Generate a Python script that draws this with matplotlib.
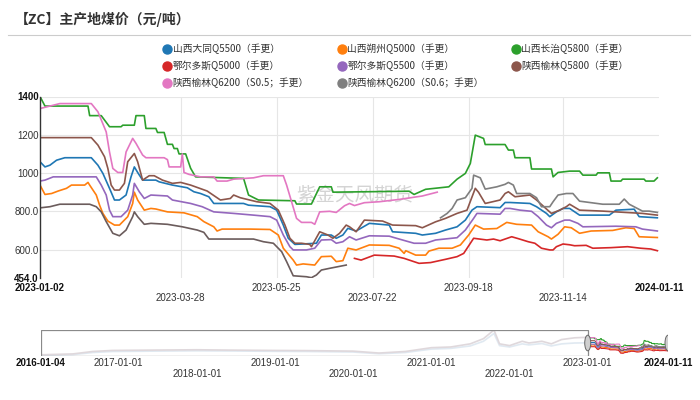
import numpy as np
import pandas as pd
import matplotlib
matplotlib.use('Agg')
import matplotlib.pyplot as plt
from matplotlib.lines import Line2D
from matplotlib.patches import Rectangle, Ellipse
import matplotlib.transforms as mtransforms

plt.rcParams['font.family'] = ['Noto Sans CJK SC', 'DejaVu Sans']
plt.rcParams['axes.unicode_minus'] = False

start = pd.Timestamp('2023-01-02')
end = pd.Timestamp('2024-01-11')

# 各序列：距 2023-01-02 的天数 + 价格（元/吨）
datong_d = [0, 3, 6, 10, 15, 31, 35, 38, 42, 45, 48, 52, 55, 57, 59, 62, 70, 72, 80, 89, 93, 97, 102, 105, 123, 126,
            139, 143, 147, 150, 154, 167, 170, 176, 179, 183, 186, 191, 199, 211, 213, 227, 231, 239, 245, 252, 257,
            261, 264, 278, 281, 284, 296, 300, 306, 308, 312, 316, 320, 326, 344, 348, 359, 362, 373]
datong = [1059, 1032, 1041, 1067, 1080, 1080, 1041, 998, 920, 859, 859, 885, 980, 1032, 1003, 963, 963, 954, 937, 923,
          902, 893, 876, 841, 841, 832, 824, 806, 728, 659, 627, 633, 676, 676, 659, 676, 711, 697, 737, 728, 693, 685,
          676, 685, 702, 719, 754, 806, 824, 819, 846, 846, 841, 824, 789, 772, 797, 815, 815, 780, 780, 806, 811, 772,
          766]

shuozhou_d = [0, 3, 7, 11, 16, 19, 27, 29, 30, 34, 36, 38, 41, 45, 48, 53, 56, 57, 59, 63, 67, 70, 77, 87, 95, 99, 105,
              107, 110, 127, 139, 144, 147, 153, 155, 159, 166, 170, 176, 179, 183, 186, 191, 199, 211, 217, 220, 221,
              227, 233, 235, 241, 249, 254, 259, 263, 268, 276, 282, 288, 297, 301, 307, 309, 313, 317, 321, 326, 333,
              346, 354, 359, 362, 373]
shuozhou = [937, 888, 893, 906, 920, 937, 937, 951, 937, 885, 832, 789, 749, 728, 728, 772, 841, 900, 859, 806, 815, 812,
            797, 792, 772, 746, 719, 697, 707, 707, 705, 676, 607, 545, 519, 525, 519, 563, 565, 537, 542, 607, 598, 624,
            622, 607, 580, 594, 571, 571, 592, 607, 607, 624, 676, 728, 707, 710, 742, 732, 728, 693, 667, 655, 680, 719,
            714, 685, 697, 700, 714, 710, 667, 663]

changzhi_d = [0, 3, 29, 30, 37, 42, 49, 50, 57, 58, 63, 64, 70, 71, 75, 76, 77, 80, 81, 83, 84, 88, 91, 94, 112, 123,
              126, 132, 154, 155, 164, 169, 176, 177, 223, 226, 233, 247, 252, 257, 260, 263, 268, 269, 281, 283, 286,
              287, 296, 297, 309, 310, 313, 320, 326, 328, 336, 337, 344, 345, 351, 352, 365, 366, 371, 373]
changzhi = [1400, 1350, 1350, 1300, 1300, 1242, 1242, 1250, 1250, 1300, 1300, 1233, 1233, 1212, 1212, 1181, 1150, 1150,
            1128, 1128, 1100, 1100, 1025, 980, 975, 972, 885, 859, 855, 838, 838, 928, 928, 900, 905, 888, 915, 928, 968,
            998, 1050, 1198, 1181, 1149, 1149, 1120, 1120, 1080, 1080, 1021, 1021, 980, 1003, 1010, 1010, 989, 989, 1001,
            1001, 958, 958, 968, 968, 958, 958, 975]

ordos5000_d = [0, 6, 12, 30, 34, 37, 40, 44, 48, 52, 56, 57, 59, 63, 67, 77, 86, 95, 99, 102, 129, 135, 141, 146, 149,
               153, 161, 164, 167, 170, 175, 185, 190, 194, 202, 214, 220, 229, 236, 245, 252, 256, 262, 270, 274, 278,
               285, 289, 295, 299, 303, 308, 310, 312, 316, 320, 323, 330, 334, 345, 355, 363, 369, 373]
ordos5000 = [818, 824, 837, 837, 824, 797, 746, 685, 672, 702, 772, 797, 772, 732, 737, 732, 719, 702, 690, 655, 655, 641,
             633, 589, 537, 463, 458, 453, 467, 493, 502, 519, 554, 545, 571, 566, 554, 528, 532, 549, 563, 580, 659, 650,
             655, 646, 667, 657, 641, 633, 607, 598, 598, 615, 629, 625, 620, 622, 607, 610, 615, 607, 603, 594]
ordos5000_split = 187   # 此前一段在原图中为深灰色

ordos5500_d = [0, 3, 8, 34, 37, 40, 42, 44, 49, 53, 56, 57, 60, 63, 67, 77, 80, 91, 98, 105, 117, 129, 139, 143, 147,
               151, 153, 161, 166, 170, 176, 179, 183, 187, 191, 199, 211, 217, 226, 233, 239, 252, 257, 262, 264, 278,
               281, 284, 290, 297, 301, 306, 309, 312, 317, 320, 325, 328, 348, 360, 364, 373]
ordos5500 = [958, 963, 980, 980, 937, 885, 806, 772, 772, 806, 885, 946, 902, 867, 885, 880, 859, 841, 824, 797, 789, 780,
             772, 754, 676, 615, 598, 598, 607, 650, 652, 633, 641, 667, 650, 672, 670, 655, 633, 633, 650, 662, 702, 763,
             789, 785, 815, 815, 806, 800, 772, 728, 714, 737, 754, 754, 737, 719, 722, 719, 707, 697]

yulin5800_d = [0, 31, 35, 39, 41, 43, 45, 48, 51, 53, 57, 59, 62, 66, 69, 74, 80, 85, 91, 101, 109, 115, 117, 121, 131,
               139, 144, 148, 151, 154, 158, 163, 164, 169, 174, 177, 181, 185, 187, 191, 196, 207, 213, 227, 231, 239,
               245, 252, 258, 263, 265, 269, 278, 281, 283, 287, 296, 300, 306, 309, 314, 318, 320, 326, 340, 348, 364,
               373]
yulin5800 = [1185, 1185, 1146, 1085, 1024, 937, 911, 911, 946, 1059, 1102, 1059, 963, 986, 986, 963, 946, 951, 937, 906,
             859, 867, 885, 871, 850, 841, 806, 728, 659, 633, 633, 627, 615, 693, 676, 659, 685, 728, 719, 693, 754, 749,
             728, 725, 714, 745, 763, 789, 806, 920, 899, 841, 859, 893, 902, 876, 885, 859, 812, 789, 806, 824, 837, 806,
             801, 797, 789, 780]

yulin6200a_d = [0, 12, 31, 35, 40, 42, 44, 47, 50, 52, 56, 58, 62, 64, 75, 77, 78, 85, 86, 87, 90, 97, 105, 107, 113,
                117, 129, 135, 147, 149, 152, 155, 158, 164, 166, 169, 175, 179, 184, 187, 190, 196, 205, 217, 231, 240]
yulin6200a = [1337, 1363, 1363, 1320, 1215, 1110, 1024, 1003, 1003, 1110, 1181, 1155, 1094, 1080, 1080, 1070, 1032, 1032,
              1100, 1003, 993, 980, 980, 958, 958, 968, 975, 986, 986, 937, 850, 763, 742, 742, 732, 797, 800, 794, 829,
              841, 830, 845, 850, 862, 880, 900]

yulin6200b_d = [242, 246, 249, 252, 257, 261, 262, 266, 269, 276, 281, 283, 286, 288, 296, 300, 303, 308, 310, 313, 318,
                322, 326, 340, 350, 353, 356, 364, 368, 373]
yulin6200b = [766, 789, 815, 859, 871, 920, 989, 975, 916, 928, 941, 951, 937, 893, 893, 871, 824, 824, 850, 885, 893,
              893, 853, 837, 837, 864, 837, 801, 801, 794]

# 导航条历史数据（2016-2022）
hist_dates = ['2016-01-04', '2016-06-01', '2016-09-01', '2016-12-01', '2017-06-01', '2018-01-01', '2018-06-01',
              '2019-01-01', '2019-06-01', '2020-01-01', '2020-05-01', '2020-09-01', '2021-01-01', '2021-04-01',
              '2021-07-01', '2021-09-01', '2021-10-20', '2021-11-15', '2022-01-01', '2022-03-01', '2022-04-01',
              '2022-06-01', '2022-07-15', '2022-09-01', '2022-11-01', '2023-01-01']
hist_upper = [370, 420, 560, 620, 640, 660, 640, 620, 610, 580, 470, 560, 780, 820, 1000, 1300, 1800, 1000, 900, 1150,
              1050, 1150, 1000, 1250, 1350, 1380]
hist_lower = [330, 380, 500, 560, 580, 600, 590, 570, 560, 530, 430, 500, 700, 740, 880, 1150, 1600, 900, 820, 1000,
              940, 1020, 880, 1000, 1050, 1060]

names = ['山西大同Q5500（手更）', '山西朔州Q5000（手更）', '山西长治Q5800（手更）',
         '鄂尔多斯Q5000（手更）', '鄂尔多斯Q5500（手更）', '陕西榆林Q5800（手更）',
         '陕西榆林Q6200（S0.5；手更）', '陕西榆林Q6200（S0.6；手更）']
colors = ['#1f77b4', '#ff7f0e', '#2ca02c', '#d62728', '#9467bd', '#8c564b', '#e377c2', '#7f7f7f']
series = [(datong_d, datong), (shuozhou_d, shuozhou), (changzhi_d, changzhi), (ordos5000_d, ordos5000),
          (ordos5500_d, ordos5500), (yulin5800_d, yulin5800), (yulin6200a_d, yulin6200a), (yulin6200b_d, yulin6200b)]


def to_dates(days):
    return start + pd.to_timedelta(np.asarray(days), unit='D')


fig = plt.figure(figsize=(7, 4), dpi=100)

# 标题与分隔线
fig.text(15 / 700, 1 - 19 / 400, '【ZC】主产地煤价（元/吨）', fontsize=10, fontweight='bold',
         color='#333333', va='center', ha='left')
fig.add_artist(Line2D([8 / 700, 690 / 700], [1 - 35 / 400] * 2, color='#cccccc', lw=0.8))

# 图例（手动排成三列）
col_x = [167, 342, 516]
row_y = [49, 66, 83]
for i, (nm, c) in enumerate(zip(names, colors)):
    cx, ry = col_x[i % 3], row_y[i // 3]
    fig.add_artist(Line2D([cx / 700], [1 - ry / 400], marker='o', markersize=6.5, color=c, lw=0))
    fig.text((cx + 5.5) / 700, 1 - ry / 400, nm, fontsize=7, color='#333333', va='center', ha='left')

# 主图
ax = fig.add_axes([40 / 700, 1 - 277.5 / 400, 619 / 700, 181 / 400])
for i, ((d, v), c) in enumerate(zip(series, colors)):
    d = np.asarray(d)
    v = np.asarray(v)
    if i == 3:
        m = d <= ordos5000_split
        ax.plot(to_dates(d[m]), v[m], color='#6b5c5c', lw=1.2, zorder=2)
        m2 = d >= d[m][-1]
        ax.plot(to_dates(d[m2][1:]), v[m2][1:], color=c, lw=1.2, zorder=2)
    else:
        ax.plot(to_dates(d), v, color=c, lw=1.2, zorder=2)

ax.set_xlim(start, end)
ax.set_ylim(454, 1400)
for s in ['top', 'right', 'bottom']:
    ax.spines[s].set_visible(False)
ax.spines['left'].set_color('#333333')
ax.spines['left'].set_linewidth(1.0)

for yv in [600, 800, 1000, 1200, 1400]:
    ax.axhline(yv, color='#e6e6e6', lw=0.8, zorder=0)
grid_dates = pd.to_datetime(['2023-03-28', '2023-05-25', '2023-07-22', '2023-09-18', '2023-11-14'])
for gd in grid_dates:
    ax.axvline(gd, color='#e6e6e6', lw=0.8, zorder=0)

yticks = [454, 600, 800, 1000, 1200, 1400]
ylabels = ['454.0', '600.0', '800.0', '1000', '1200', '1400']
ax.set_yticks(yticks, ylabels)
ax.tick_params(axis='y', length=0, pad=1, labelsize=7, labelcolor='#333333')
for t in ax.get_yticklabels():
    t.set_family('Liberation Sans')
    if t.get_text() in ('454.0', '1400'):
        t.set_fontweight('bold')
        t.set_color('#111111')

major = pd.to_datetime(['2023-01-02', '2023-05-25', '2023-09-18', '2024-01-11'])
minor = pd.to_datetime(['2023-03-28', '2023-07-22', '2023-11-14'])
ax.set_xticks(major, [x.strftime('%Y-%m-%d') for x in major])
ax.set_xticks(minor, [x.strftime('%Y-%m-%d') for x in minor], minor=True)
ax.tick_params(axis='x', which='major', length=0, pad=4, labelsize=7, labelcolor='#333333')
ax.tick_params(axis='x', which='minor', length=0, pad=11.5, labelsize=7, labelcolor='#333333')
for t in ax.get_xticklabels() + ax.get_xticklabels(minor=True):
    t.set_family('Liberation Sans')
for t in ax.get_xticklabels():
    if t.get_text() in ('2023-01-02', '2024-01-11'):
        t.set_fontweight('bold')
        t.set_color('#111111')

# 水印
ax.text(pd.Timestamp('2023-07-11'), 880, '紫金天风期货', fontsize=14, color='#d4d4d4',
        ha='center', va='center', zorder=1)

# 导航条
nav = fig.add_axes([41 / 700, 1 - 356 / 400, 627 / 700, 26 / 400])
nav_start = pd.Timestamp('2016-01-04')
sel = pd.Timestamp('2023-01-01')
hd = pd.to_datetime(hist_dates)
nav.plot(hd, hist_lower, color='#d3e0ec', lw=1.2)
nav.plot(hd, hist_upper, color='#d2c8cd', lw=1.2)
for i, ((d, v), c) in enumerate(zip(series, colors)):
    nav.plot(to_dates(d), v, color=c, lw=0.8)
nav.set_xlim(nav_start, end)
nav.set_ylim(300, 1800)
for s in nav.spines.values():
    s.set_visible(False)
nav.set_yticks([])
bt = mtransforms.blended_transform_factory(nav.transData, nav.transAxes)
x0 = matplotlib.dates.date2num(nav_start)
x1 = matplotlib.dates.date2num(sel)
nav.add_patch(Rectangle((x0, 0), x1 - x0, 1, transform=bt, facecolor='white', alpha=0.3,
                        edgecolor='none', zorder=3))
nav.add_patch(Rectangle((x0, 0), x1 - x0, 1, transform=bt, facecolor='none', edgecolor='#8a8a8a',
                        lw=0.9, zorder=4))
for hx in [sel, end]:
    nav.add_patch(Ellipse((matplotlib.dates.date2num(hx), 0.5), 28, 0.6, transform=bt,
                          facecolor='#cfcfcf', edgecolor='#666666', lw=0.7, zorder=5))

nmajor = pd.to_datetime(['2016-01-04', '2017-01-01', '2019-01-01', '2021-01-01', '2023-01-01', '2024-01-11'])
nminor = pd.to_datetime(['2018-01-01', '2020-01-01', '2022-01-01'])
nav.set_xticks(nmajor, [x.strftime('%Y-%m-%d') for x in nmajor])
nav.set_xticks(nminor, [x.strftime('%Y-%m-%d') for x in nminor], minor=True)
nav.tick_params(axis='x', which='major', length=0, pad=1.5, labelsize=7, labelcolor='#333333')
nav.tick_params(axis='x', which='minor', length=0, pad=9.5, labelsize=7, labelcolor='#333333')
for t in nav.get_xticklabels() + nav.get_xticklabels(minor=True):
    t.set_family('Liberation Sans')
for t in nav.get_xticklabels():
    if t.get_text() in ('2016-01-04', '2024-01-11'):
        t.set_fontweight('bold')
        t.set_color('#111111')

fig.savefig('out.png', dpi=100)
